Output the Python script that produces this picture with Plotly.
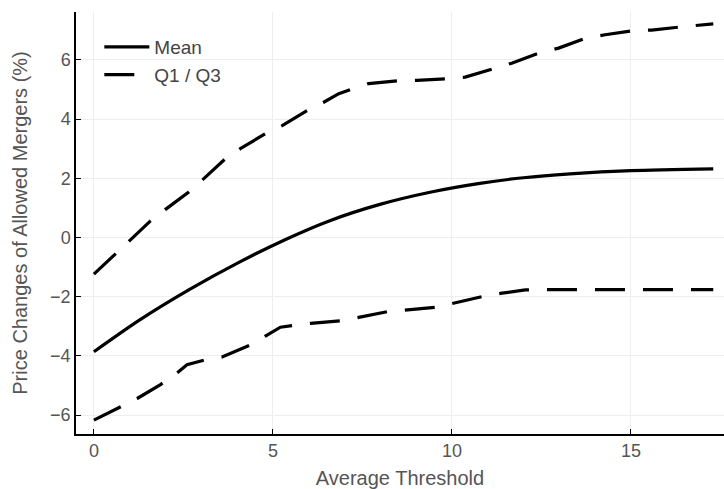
import plotly.graph_objects as go

# Mean curve
mean_x = [0, 1.26, 2.65, 4.05, 5.4, 6.59, 7.99, 9.39, 10.78, 12.0, 13.3, 15.0, 17.3]
mean_y = [-3.86, -2.80, -1.77, -0.84, -0.04, 0.57, 1.12, 1.53, 1.83, 2.02, 2.15, 2.26, 2.32]

# Upper quartile (Q3)
q3_x = [0, 0.6, 0.98, 1.58, 2.0, 2.65, 3.07, 3.67, 4.09, 4.42, 4.79, 5.26, 6.0, 6.42, 6.84, 7.21, 7.67,
        8.51, 9.02, 9.91, 10.37, 11.21, 11.67, 12.42, 12.98, 13.72, 14.28, 15.02, 15.58, 16.42, 17.3]
q3_y = [-1.24, -0.56, -0.15, 0.56, 0.95, 1.54, 1.99, 2.66, 3.0, 3.25, 3.51, 3.78, 4.32, 4.57, 4.86, 5.02, 5.2,
        5.3, 5.31, 5.37, 5.42, 5.72, 5.89, 6.23, 6.4, 6.73, 6.85, 6.98, 7.01, 7.12, 7.22]

# Lower quartile (Q1)
q1_x = [0, 0.74, 1.21, 1.86, 2.33, 2.6, 3.07, 3.58, 4.37, 4.79, 5.21, 5.53, 6.05, 6.93, 7.4, 8.23,
        9.54, 10.1, 10.84, 11.4, 12.05, 13.0, 14.5, 16.0, 17.3]
q1_y = [-6.17, -5.72, -5.44, -4.97, -4.57, -4.3, -4.15, -4.04, -3.63, -3.33, -3.03, -2.98, -2.9, -2.81, -2.69, -2.5,
        -2.36, -2.21, -2.0, -1.88, -1.77, -1.76, -1.76, -1.76, -1.76]

x_ticks = [0, 5, 10, 15]
y_ticks = [-6, -4, -2, 0, 2, 4, 6]

FONT = "Liberation Sans, Arial, Helvetica, sans-serif"
TXT = "#555555"
dash = "30px,18px"

fig = go.Figure()
fig.add_trace(go.Scatter(x=mean_x, y=mean_y, mode="lines", name="Mean",
                         line=dict(color="black", width=3.2, shape="spline", smoothing=0.8)))
fig.add_trace(go.Scatter(x=q3_x, y=q3_y, mode="lines", name="Q1 / Q3",
                         line=dict(color="black", width=3.2, dash=dash)))
fig.add_trace(go.Scatter(x=q1_x, y=q1_y, mode="lines", name="Q1 / Q3", showlegend=False,
                         line=dict(color="black", width=3.2, dash=dash)))

fig.update_layout(
    width=724, height=489,
    margin=dict(l=76, r=0, t=12, b=55),
    paper_bgcolor="white", plot_bgcolor="white",
    font=dict(family=FONT, size=18, color=TXT),
    showlegend=True,
    legend=dict(x=0.036, y=0.962, xanchor="left", yanchor="top",
                bgcolor="rgba(0,0,0,0)", borderwidth=0, itemwidth=45,
                font=dict(family=FONT, size=19, color="#444444")),
    xaxis=dict(range=[-0.5, 17.6], tickvals=x_ticks, showgrid=True,
               gridcolor="#eeeeee", gridwidth=1, zeroline=False,
               showline=True, linecolor="black", linewidth=1.5,
               ticks="inside", ticklen=5, tickcolor="black",
               title=dict(text="Average Threshold", font=dict(size=20, color=TXT), standoff=11),
               tickfont=dict(size=18, color=TXT)),
    yaxis=dict(range=[-6.64, 7.62], tickvals=y_ticks, showgrid=True,
               gridcolor="#eeeeee", gridwidth=1, zeroline=False,
               showline=True, linecolor="black", linewidth=1.5,
               ticks="inside", ticklen=5, tickcolor="black",
               title=dict(text="Price Changes of Allowed Mergers (%)", font=dict(size=20, color=TXT), standoff=17),
               tickfont=dict(size=18, color=TXT)),
)

fig.write_html("out.html")
